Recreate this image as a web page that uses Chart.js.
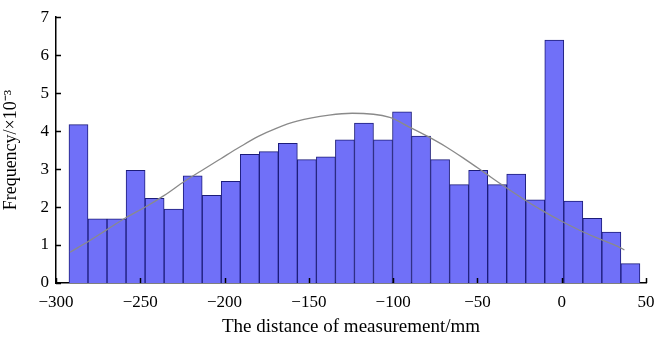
<!DOCTYPE html>
<html>
<head>
<meta charset="utf-8">
<script src="https://cdn.jsdelivr.net/npm/chart.js@4.4.1/dist/chart.umd.min.js"></script>
<style>
  html, body { margin: 0; padding: 0; background: #fff; }
  #wrap { width: 656px; height: 338px; }
</style>
</head>
<body>
<div id="wrap"><canvas id="histChart"></canvas></div>
<script>
// bin centres (mm) and frequency (x10^-3)
const binCenters = [-286.66, -275.37, -264.08, -252.79, -241.50, -230.21, -218.92, -207.63, -196.34, -185.05,
    -173.76, -162.47, -151.18, -139.89, -128.60, -117.31, -106.02, -94.73, -83.44, -72.15,
    -60.86, -49.57, -38.28, -26.99, -15.70, -4.41, 6.88, 18.17, 29.46, 40.75];
const freqValues = [4.17, 1.69, 1.69, 2.97, 2.23, 1.95, 2.82, 2.31, 2.68, 3.39,
    3.46, 3.68, 3.25, 3.32, 3.77, 4.21, 3.77, 4.51, 3.87, 3.25,
    2.59, 2.97, 2.59, 2.87, 2.19, 6.40, 2.16, 1.70, 1.34, 0.51];

// fitted curve
const curveX = [-291.7, -280.6, -270, -258.6, -247, -236, -225, -214, -202, -191, -180, -169, -157, -138,
    -124.3, -102, -91, -79.5, -68, -57, -45.6, -34.6, -23, -12, -0.6, 10.6, 22, 33.5, 37.2];
const curveY = [0.81, 1.1, 1.4, 1.72, 2.0, 2.3, 2.64, 2.95, 3.28, 3.58, 3.86, 4.08, 4.26, 4.42,
    4.47, 4.36, 4.12, 3.86, 3.57, 3.25, 2.9, 2.56, 2.22, 1.92, 1.64, 1.39, 1.17, 0.96, 0.87];

const xTicks = [-300, -250, -200, -150, -100, -50, 0, 50];
const yTicks = [0, 1, 2, 3, 4, 5, 6, 7];

const FONT = '"Liberation Serif", "Times New Roman", serif';

// small tick marks drawn inward, like the original figure
const innerTicks = {
    id: 'innerTicks',
    afterDatasetsDraw(chart) {
        const { ctx, chartArea, scales } = chart;
        ctx.save();
        ctx.strokeStyle = '#000';
        ctx.lineWidth = 1.5;
        ctx.beginPath();
        xTicks.forEach(v => {
            const px = Math.round(scales.x.getPixelForValue(v)) + 0.5;
            ctx.moveTo(px, chartArea.bottom);
            ctx.lineTo(px, chartArea.bottom - 5);
        });
        yTicks.forEach(v => {
            const py = Math.round(scales.y.getPixelForValue(v)) + 0.5;
            ctx.moveTo(chartArea.left, py);
            ctx.lineTo(chartArea.left + 5, py);
        });
        ctx.stroke();
        ctx.restore();
    }
};

new Chart(document.getElementById('histChart'), {
    type: 'bar',
    data: {
        datasets: [{
            type: 'line',
            data: curveX.map((x, i) => ({ x: x, y: curveY[i] })),
            borderColor: '#8a8a8a',
            borderWidth: 1.3,
            pointRadius: 0,
            cubicInterpolationMode: 'monotone',
            fill: false,
            order: 0
        }, {
            type: 'bar',
            data: binCenters.map((x, i) => ({ x: x, y: freqValues[i] })),
            backgroundColor: 'rgb(112,112,248)',
            borderColor: '#1c1c7a',
            borderWidth: 1,
            barPercentage: 1,
            categoryPercentage: 1,
            order: 1
        }]
    },
    options: {
        responsive: true,
        maintainAspectRatio: false,
        animation: false,
        layout: { padding: { top: 8, right: 0, left: 0, bottom: 0 } },
        plugins: {
            legend: { display: false },
            tooltip: { enabled: false }
        },
        scales: {
            x: {
                type: 'linear',
                min: -300,
                max: 50,
                offset: false,
                afterBuildTicks: axis => { axis.ticks = xTicks.map(v => ({ value: v })); },
                afterFit: axis => {
                    axis.height = 55;
                    axis.paddingRight = 10; // keep the "50" label flush with the edge
                },
                border: { display: true, color: '#000', width: 1.5 },
                grid: { display: false, drawTicks: false },
                ticks: {
                    color: '#000',
                    font: { family: FONT, size: 17 },
                    padding: 9,
                    maxRotation: 0,
                    callback: v => (v < 0 ? '\u2212' + Math.abs(v) : String(v))
                },
                title: {
                    display: true,
                    text: 'The distance of measurement/mm',
                    color: '#000',
                    font: { family: FONT, size: 19 },
                    padding: { top: 2, bottom: 0 }
                }
            },
            y: {
                min: 0,
                max: 7,
                afterBuildTicks: axis => { axis.ticks = yTicks.map(v => ({ value: v })); },
                afterFit: axis => { axis.width = 56; },
                border: { display: true, color: '#000', width: 1.5 },
                grid: { display: false, drawTicks: false },
                ticks: {
                    color: '#000',
                    font: { family: FONT, size: 17 },
                    padding: 7
                },
                title: {
                    display: true,
                    text: 'Frequency/\u00d710\u207b\u00b3',
                    color: '#000',
                    font: { family: FONT, size: 18 },
                    padding: { top: 0, bottom: 0 }
                }
            }
        }
    },
    plugins: [innerTicks]
});
</script>
</body>
</html>
